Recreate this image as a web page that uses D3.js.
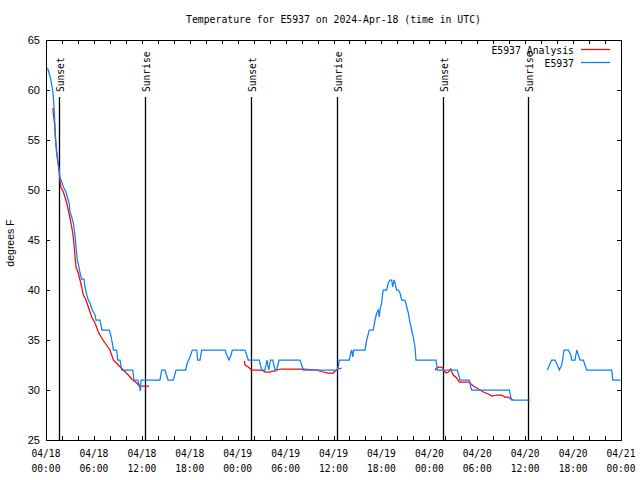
<!DOCTYPE html>
<html><head><meta charset="utf-8">
<script src="https://cdn.jsdelivr.net/npm/d3@7/dist/d3.min.js"></script>
<style>body{margin:0;background:#fff}</style>
</head><body><svg id="chart" width="640" height="480"></svg>
<script>
// ---------- data ----------
const chartTitle = "Temperature for E5937 on 2024-Apr-18 (time in UTC)";
const yLabel = "degrees F";
const startTime = "2024-04-18T00:00:00Z";
const endTime = "2024-04-21T00:00:00Z";
const yTickValues = [25, 30, 35, 40, 45, 50, 55, 60, 65];
const xTickDates = ["04/18","04/18","04/18","04/18","04/19","04/19","04/19","04/19","04/20","04/20","04/20","04/20","04/21"];
const xTickTimes = ["00:00","06:00","12:00","18:00","00:00","06:00","12:00","18:00","00:00","06:00","12:00","18:00","00:00"];
const seriesNames = ["E5937 Analysis", "E5937"];
const seriesColors = ["#ff0000", "#0a80ff"];

// hours since 2024-04-18 00:00 UTC ; null temp = gap
const obsHours = [0.19,0.50,0.75,0.91,1.00,1.09,1.19,1.29,1.44,1.63,1.75,1.94,2.17,2.50,2.67,2.92,3.00,3.22,3.42,3.54,3.67,3.76,3.92,4.13,4.26,4.47,4.76,4.88,5.10,5.30,5.51,5.80,6.14,6.26,6.76,7.01,7.93,8.10,8.35,8.43,8.85,8.98,9.27,9.48,10.86,11.02,11.48,11.68,11.81,11.90,14.27,14.49,14.90,15.28,15.94,16.28,17.49,17.69,18.03,18.32,18.87,19.00,19.28,19.50,22.41,22.63,22.92,23.17,23.33,24.92,25.13,25.33,26.71,27.01,27.42,27.67,27.89,28.11,28.39,28.68,28.89,29.18,31.81,32.22,36.40,36.60,36.73,37.98,38.15,38.28,38.41,38.53,39.94,40.16,40.48,40.98,41.20,41.41,41.61,41.74,41.82,42.03,42.16,42.24,42.66,42.86,43.07,43.29,43.41,43.58,43.70,43.91,44.11,44.33,44.54,44.95,45.17,45.37,45.58,45.79,45.99,46.21,46.33,48.84,49.00,51.50,51.75,51.84,53.01,53.18,53.31,58.02,58.19,58.32,60.61,61.50,62.77,63.32,63.74,64.03,64.28,64.58,64.87,65.40,65.70,65.83,66.24,66.46,66.66,66.87,67.28,67.71,70.84,70.97,71.95];
const obsTemps = [62.2,61.4,60.4,59.5,58.3,56.8,55.2,54.0,53.0,52.0,51.2,50.9,50.3,49.8,49.3,48.6,47.8,47.3,46.7,46.0,45.2,44.3,43.0,42.3,41.7,41.1,41.1,40.3,39.5,39.0,38.7,38.0,37.5,37.0,37.0,36.0,36.0,35.5,34.5,34.0,34.0,33.0,33.0,32.0,32.0,31.0,31.0,30.5,29.9,31.0,31.0,32.0,32.0,31.0,31.0,32.0,32.0,32.7,33.3,34.0,34.0,33.0,33.0,34.0,34.0,33.5,33.0,33.5,34.0,34.0,33.5,33.0,33.0,32.0,32.0,33.0,32.0,33.0,33.0,32.0,32.0,33.0,33.0,32.0,32.0,32.3,33.0,33.0,33.7,34.0,33.3,34.0,34.0,35.0,36.0,36.0,37.0,37.7,38.0,37.3,38.0,38.7,39.7,40.0,40.0,40.7,41.0,41.0,40.3,41.0,40.7,40.0,40.0,39.7,39.0,39.0,38.3,37.7,36.7,36.0,35.3,34.3,33.0,33.0,32.0,32.0,31.3,31.0,31.0,30.3,30.0,30.0,29.3,29.0,29.0,null,32.0,33.0,33.0,32.5,32.0,32.5,34.0,34.0,33.5,33.0,33.0,34.0,33.5,33.0,33.0,32.0,32.0,31.0,31.0];

const anaHours = [0.85,1.08,1.17,1.30,1.45,1.62,1.75,1.84,2.17,2.38,2.59,2.79,3.00,3.22,3.42,3.54,3.63,3.76,4.04,4.26,4.47,4.67,5.01,5.30,5.72,6.14,6.55,6.97,7.39,8.01,8.43,9.05,9.68,10.31,10.73,11.36,11.68,12.94,18.0,24.83,24.92,25.33,25.76,27.01,27.42,28.05,28.26,28.68,28.89,29.52,32.22,34.06,34.22,34.72,35.35,35.98,36.19,36.60,37.03,42.0,48.71,48.92,49.34,49.68,49.84,50.09,50.38,50.68,50.80,51.00,51.43,51.75,52.88,53.09,53.51,53.93,54.35,54.76,55.39,55.81,56.44,57.06,57.48,57.89,58.19,58.52];
const anaTemps = [58.2,56.6,55.3,54.2,53.1,52.1,51.0,50.3,49.8,49.3,48.7,48.0,47.2,46.3,45.3,44.3,43.3,42.3,41.7,41.0,40.3,39.5,39.0,38.3,37.3,36.7,35.8,35.2,34.7,34.0,33.0,32.5,32.0,31.5,31.1,30.7,30.4,30.4,null,32.9,32.5,32.3,32.0,32.0,31.8,31.8,31.9,31.9,32.0,32.1,32.1,32.0,31.9,31.8,31.7,31.7,31.9,32.1,32.2,null,32.0,32.2,32.3,32.2,31.9,31.7,31.8,32.1,31.8,31.5,31.2,30.8,30.8,30.7,30.4,30.2,30.0,29.8,29.6,29.4,29.5,29.5,29.3,29.3,29.1,29.0];

const sunLabels = ["Sunset","Sunrise","Sunset","Sunrise","Sunset","Sunrise"];
const sunTimes = ["2024-04-18T01:40:00Z","2024-04-18T12:26:00Z","2024-04-19T01:42:00Z","2024-04-19T12:24:00Z","2024-04-20T01:40:00Z","2024-04-20T12:23:00Z"];

// ---------- layout ----------
const M = {left: 46, right: 621, top: 40, bottom: 440};
const MONO = "'DejaVu Sans Mono', 'Liberation Mono', monospace";
const SANS = "'Liberation Sans', Arial, sans-serif";
const svg = d3.select("#chart");
svg.append("rect").attr("width",640).attr("height",480).attr("fill","#fff");

const t0 = new Date(startTime);
const x = d3.scaleUtc().domain([t0, new Date(endTime)]).range([M.left, M.right]);
const y = d3.scaleLinear().domain([25, 65]).range([M.bottom, M.top]);
const toDate = h => new Date(t0.getTime() + h * 3600e3);

const ticks2h = d3.utcHour.every(2).range(t0, new Date(new Date(endTime).getTime() + 1));
const tick6 = ticks2h.filter(d => d.getUTCHours() % 6 === 0);

// axes (ticks inward, mirrored)
const axisStyle = g => { g.select(".domain").remove(); g.selectAll("line").attr("stroke","#000").attr("shape-rendering","crispEdges"); g.selectAll("text").remove(); };
svg.append("g").attr("transform",`translate(0,${M.bottom})`).call(d3.axisBottom(x).tickValues(ticks2h).tickSize(-4)).call(axisStyle);
svg.append("g").attr("transform",`translate(0,${M.top})`).call(d3.axisTop(x).tickValues(ticks2h).tickSize(-4)).call(axisStyle);
svg.append("g").attr("transform",`translate(${M.left},0)`).call(d3.axisLeft(y).tickValues(yTickValues).tickSize(-4)).call(axisStyle);
svg.append("g").attr("transform",`translate(${M.right},0)`).call(d3.axisRight(y).tickValues(yTickValues).tickSize(-4)).call(axisStyle);

// frame
svg.append("rect").attr("x",M.left+0.5).attr("y",M.top+0.5).attr("width",M.right-M.left).attr("height",M.bottom-M.top)
  .attr("fill","none").attr("stroke","#000").attr("stroke-width",1).attr("shape-rendering","crispEdges");

// y tick labels
svg.append("g").selectAll("text").data(yTickValues).join("text")
  .attr("x", M.left - 6).attr("y", d => y(d) + 4).attr("text-anchor","end")
  .attr("font-family", SANS).attr("font-size", 11).attr("fill","#000").text(d => d);

// x tick labels
const xl = svg.append("g").selectAll("text").data(tick6).join("text")
  .attr("text-anchor","middle").attr("font-family", MONO).attr("font-size", 9.6).attr("fill","#000");
xl.append("tspan").attr("x", d => x(d)).attr("y", 457).text((d,i) => xTickDates[i]);
xl.append("tspan").attr("x", d => x(d)).attr("y", 472).text((d,i) => xTickTimes[i]);

// title & y label
svg.append("text").attr("x",(M.left+M.right)/2).attr("y",23).attr("text-anchor","middle")
  .attr("font-family",MONO).attr("font-size",9.8).attr("fill","#000").text(chartTitle);
svg.append("text").attr("transform","translate(14,243) rotate(-90)").attr("text-anchor","middle")
  .attr("font-family",SANS).attr("font-size",10.5).attr("fill","#000").text(yLabel);

// sun lines
const sunTop = y(59.3);
const sg = svg.append("g");
sunTimes.forEach((s,i) => {
  const xx = Math.round(x(new Date(s))) + 0.5;
  sg.append("line").attr("x1",xx).attr("x2",xx).attr("y1",sunTop).attr("y2",M.bottom)
    .attr("stroke","#000").attr("stroke-width",1.3);
  sg.append("text").attr("transform",`translate(${xx+4.3},92) rotate(-90)`).attr("text-anchor","start")
    .attr("font-family",MONO).attr("font-size",9.6).attr("fill","#000").text(sunLabels[i]);
});

// series
const line = d3.line().defined(d => d.v !== null).x(d => x(d.t)).y(d => y(d.v));
const ana = anaHours.map((h,i) => ({t: toDate(h), v: anaTemps[i]}));
const obs = obsHours.map((h,i) => ({t: toDate(h), v: obsTemps[i]}));
svg.append("path").datum(ana).attr("d", line).attr("fill","none").attr("stroke",seriesColors[0]).attr("stroke-width",1.25);
svg.append("path").datum(obs).attr("d", line).attr("fill","none").attr("stroke",seriesColors[1]).attr("stroke-width",1.25);

// legend
seriesNames.forEach((n,i) => {
  const yy = 50 + i*13;
  svg.append("text").attr("x",574).attr("y",yy+4).attr("text-anchor","end")
    .attr("font-family",MONO).attr("font-size",9.8).attr("fill","#000").text(n);
  svg.append("line").attr("x1",581).attr("x2",610).attr("y1",yy-0.5).attr("y2",yy-0.5)
    .attr("stroke",seriesColors[i]).attr("stroke-width",1.25);
});
</script></body></html>
